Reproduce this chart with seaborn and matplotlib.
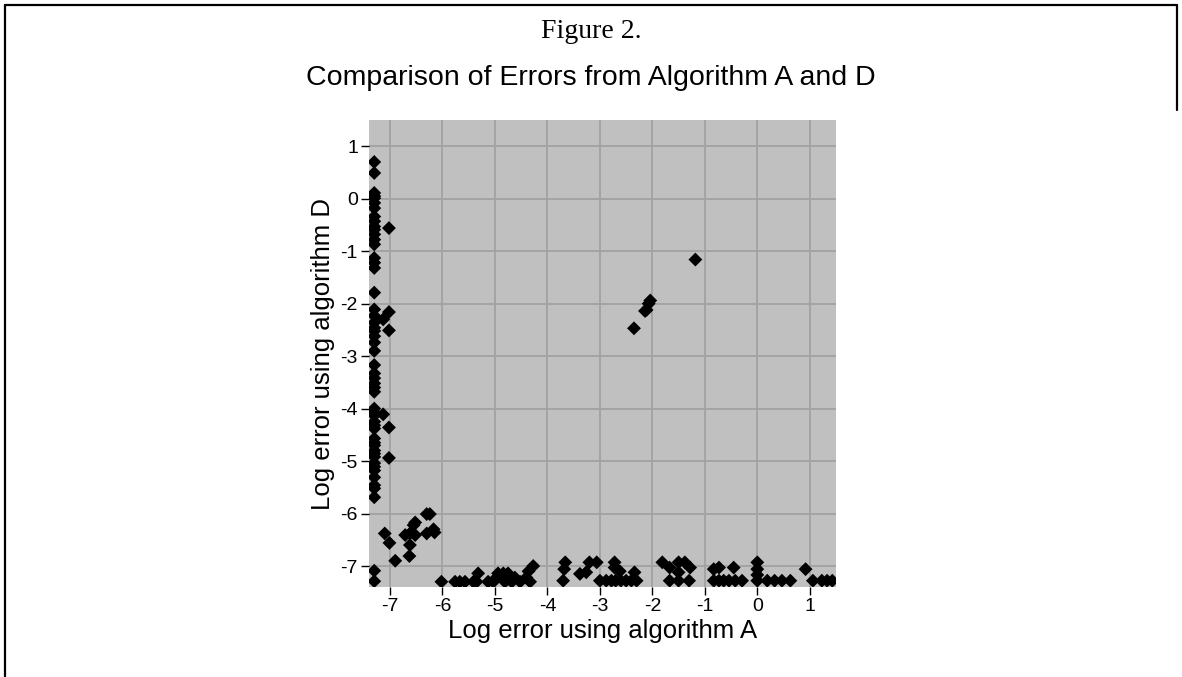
import matplotlib
matplotlib.use("Agg")
import matplotlib.pyplot as plt
import seaborn as sns
import pandas as pd
from matplotlib.lines import Line2D

# ---- data ----
left_col_x = -7.3
left_col_y = [0.70, 0.49, 0.11, 0.05, 0.01, -0.08, -0.18, -0.34, -0.43, -0.53, -0.59,
              -0.68, -0.78, -0.87, -1.13, -1.22, -1.32, -1.79, -2.11, -2.23, -2.36,
              -2.46, -2.52, -2.62, -2.74, -2.90, -3.17, -3.33, -3.42, -3.52, -3.60,
              -3.68, -4.00, -4.07, -4.13, -4.25, -4.32, -4.38, -4.57, -4.65, -4.70,
              -4.80, -4.86, -4.92, -5.04, -5.11, -5.18, -5.31, -5.46, -5.52, -5.69,
              -7.09, -7.29]

near_left_x = [-7.02, -7.02, -7.13, -7.02, -7.13, -7.02, -7.02]
near_left_y = [-0.56, -2.16, -2.30, -2.51, -4.11, -4.36, -4.94]

cluster_x = [-7.10, -7.01, -6.90, -6.71, -6.62, -6.52, -6.52, -6.55, -6.62, -6.63,
             -6.30, -6.24, -6.30, -6.17, -6.15]
cluster_y = [-6.38, -6.56, -6.90, -6.41, -6.38, -6.41, -6.17, -6.22, -6.60, -6.81,
             -6.01, -6.01, -6.38, -6.30, -6.36]

diag_x = [-1.18, -2.04, -2.07, -2.11, -2.14, -2.35]
diag_y = [-1.16, -1.94, -2.00, -2.12, -2.14, -2.47]

bottom_x = [-6.02, -5.76, -5.67, -5.57, -5.41, -5.32, -5.35, -5.13, -5.03, -4.97,
            -4.94, -4.84, -4.75, -4.81, -4.68, -4.62, -4.52, -4.40, -4.33, -4.27,
            -4.36,
            -3.70, -3.68, -3.66, -3.38, -3.26, -3.20, -3.06, -3.00, -2.88, -2.78,
            -2.70, -2.60, -2.50, -2.40, -2.30, -2.72, -2.72, -2.62, -2.34,
            -1.81, -1.67, -1.67, -1.50, -1.50, -1.50, -1.38, -1.28, -1.30,
            -0.83, -0.73, -0.83, -0.73, -0.64, -0.54, -0.45, -0.42, -0.29,
            0.00, 0.00, 0.00, 0.00, 0.19, 0.33, 0.47, 0.63, 0.92, 1.06, 1.23, 1.33, 1.43]
bottom_y = [-7.30, -7.30, -7.30, -7.30, -7.30, -7.14, -7.30, -7.30, -7.30, -7.22,
            -7.14, -7.14, -7.14, -7.30, -7.30, -7.22, -7.30, -7.22, -7.30, -7.00,
            -7.10,
            -7.28, -7.06, -6.93, -7.15, -7.12, -6.93, -6.93, -7.28, -7.28, -7.28,
            -7.28, -7.28, -7.28, -7.28, -7.28, -6.93, -7.03, -7.10, -7.12,
            -6.93, -7.03, -7.28, -6.93, -7.12, -7.28, -6.93, -7.03, -7.28,
            -7.06, -7.03, -7.28, -7.28, -7.28, -7.28, -7.03, -7.28, -7.28,
            -6.93, -7.06, -7.17, -7.28, -7.28, -7.28, -7.28, -7.28, -7.06, -7.28, -7.28, -7.28, -7.28]

x_ticks = [-7, -6, -5, -4, -3, -2, -1, 0, 1]
y_ticks = [1, 0, -1, -2, -3, -4, -5, -6, -7]

xs = [left_col_x] * len(left_col_y) + near_left_x + cluster_x + diag_x + bottom_x
ys = left_col_y + near_left_y + cluster_y + diag_y + bottom_y
df = pd.DataFrame({"A": xs, "D": ys})

# ---- style ----
sns.set_style("darkgrid", {"axes.facecolor": "#c0c0c0", "grid.color": "#a2a2a2",
                           "axes.edgecolor": "#c0c0c0", "text.color": "black",
                           "axes.labelcolor": "black", "xtick.color": "black",
                           "ytick.color": "black"})
plt.rcParams['font.family'] = ['Liberation Sans', 'DejaVu Sans']

fig = plt.figure(figsize=(11.82, 6.77), dpi=100)
ax = fig.add_axes([369 / 1182, 1 - 587 / 677, 467 / 1182, 467 / 677])

sns.scatterplot(data=df, x="A", y="D", marker="D", s=50, color="black",
                edgecolor="none", linewidth=0, ax=ax, zorder=3)

ax.set_xlim(-7.4, 1.5)
ax.set_ylim(-7.4, 1.5)
ax.set_xticks(x_ticks)
ax.set_yticks(y_ticks)
ax.set_xticklabels([str(t) for t in x_ticks])
ax.set_yticklabels([str(t) for t in y_ticks])
ax.grid(True, color="#a2a2a2", linewidth=1.3)
ax.set_axisbelow(True)
for s in ax.spines.values():
    s.set_visible(False)
ax.tick_params(axis="both", which="major", direction="out", length=6, width=1,
               color="black", labelsize=14, labelcolor="black", pad=2,
               bottom=True, left=True)

ax.set_xlabel("Log error using algorithm A", fontsize=18.5, labelpad=3, color="black")
ax.set_ylabel("Log error using algorithm D", fontsize=18.5, labelpad=4, color="black")

fig.text(0.5, 1 - 31 / 677, "Figure 2.", ha="center", va="center",
         fontsize=20, family="Liberation Serif", color="black")
fig.text(0.5, 1 - 78 / 677, "Comparison of Errors from Algorithm A and D",
         ha="center", va="center", fontsize=20.5, color="black")

# frame lines around the figure
fig.add_artist(Line2D([5 / 1182, 5 / 1182], [0, 1 - 5 / 677], transform=fig.transFigure,
                      color="black", linewidth=1.6))
fig.add_artist(Line2D([5 / 1182, 1177 / 1182], [1 - 5 / 677, 1 - 5 / 677],
                      transform=fig.transFigure, color="black", linewidth=1.6))
fig.add_artist(Line2D([1177 / 1182, 1177 / 1182], [1 - 5 / 677, 1 - 110 / 677],
                      transform=fig.transFigure, color="black", linewidth=1.6))

fig.savefig("out.png", dpi=100)
